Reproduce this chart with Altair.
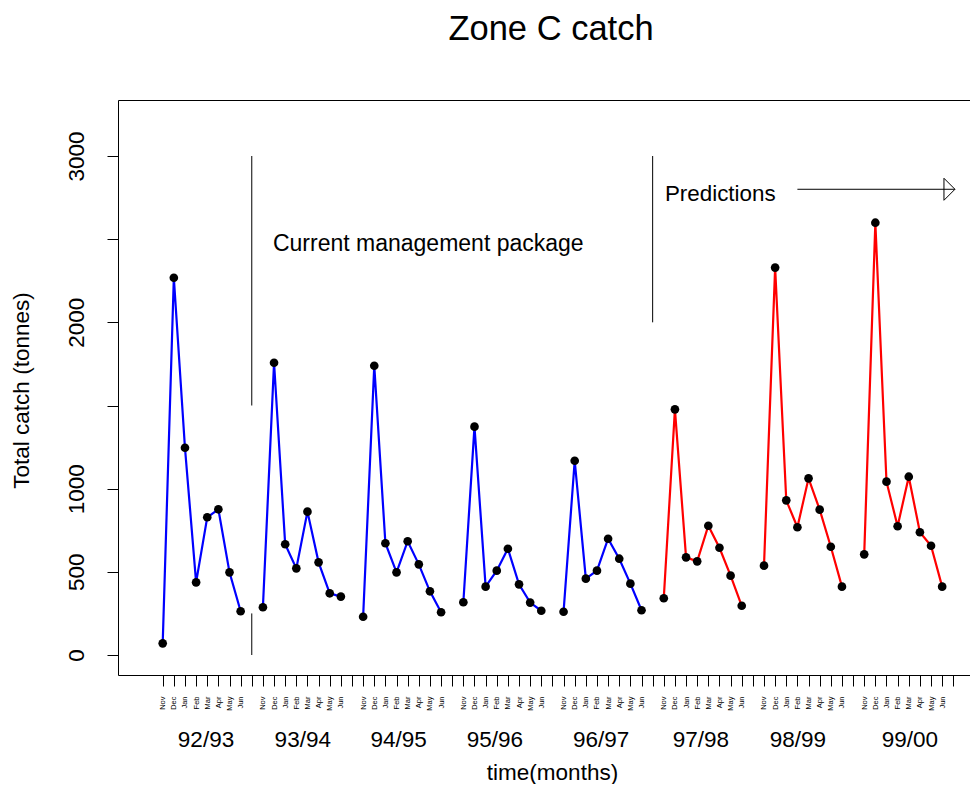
import altair as alt
import pandas as pd

FONT = "Liberation Sans"

# ---------------- data ----------------
seasons = ["92/93", "93/94", "94/95", "95/96", "96/97", "97/98", "98/99", "99/00"]
months = ["Nov", "Dec", "Jan", "Feb", "Mar", "Apr", "May", "Jun"]
month_tick_labels = ["Nov", "Dec", "Jan", "Feb", "Mar", "Apr", "May", "Jun", ""]
season_kind = ["observed", "observed", "observed", "observed", "observed",
               "predicted", "predicted", "predicted"]

catch_9293 = [70, 2268, 1246, 437, 828, 876, 497, 263]
catch_9394 = [287, 1757, 666, 521, 862, 557, 371, 351]
catch_9495 = [230, 1739, 672, 497, 684, 545, 383, 257]
catch_9596 = [317, 1373, 411, 507, 639, 425, 315, 266]
catch_9697 = [260, 1168, 459, 507, 699, 579, 429, 269]
catch_9798 = [341, 1477, 587, 563, 777, 645, 477, 296]
catch_9899 = [537, 2329, 930, 768, 1062, 874, 651, 411]
catch_9900 = [605, 2599, 1042, 774, 1072, 738, 657, 411]
all_catch = [catch_9293, catch_9394, catch_9495, catch_9596,
             catch_9697, catch_9798, catch_9899, catch_9900]

season_label_x = [4.89, 13.58, 22.19, 30.84, 40.38, 49.34, 58.05, 68.11]

y_ticks = [0, 500, 1000, 1500, 2000, 2500, 3000]
x_ticks = list(range(1, 73))

# annotation lines (x position, y from, y to)
vline_x = [9, 9, 45]
vline_y = [1500, 0, 2000]
vline_y2 = [3000, 250, 3000]

arrow_x = [58.0]
arrow_x2 = [72.15]
arrow_y = [2800]

notes = ["Current management package", "Predictions"]
notes_x = [10.9, 46.1]
notes_y = [2429, 2731]
notes_size = [23, 22.4]

title_text = ["Zone C catch"]

# ---------------- tables ----------------
rows = []
for s, (name, vals) in enumerate(zip(seasons, all_catch)):
    for m, (mon, v) in enumerate(zip(months, vals)):
        rows.append({"pos": s * 9 + m + 1, "catch": v, "season": name,
                     "month": mon, "kind": season_kind[s]})
df = pd.DataFrame(rows)

vlines = pd.DataFrame({"pos": vline_x, "catch": vline_y, "catch2": vline_y2})
arrow = pd.DataFrame({"pos": arrow_x, "pos2": arrow_x2, "catch": arrow_y})
arrow_tip = pd.DataFrame({"pos": arrow_x2, "catch": arrow_y})
notes_df = pd.DataFrame({"text": notes, "pos": notes_x, "catch": notes_y,
                         "size": notes_size})
season_df = pd.DataFrame({"text": seasons, "pos": season_label_x})
title_df = pd.DataFrame({"text": title_text})

xscale = alt.Scale(domain=[-3.014, 73.5], nice=False, zero=False)
yscale = alt.Scale(domain=[-120.2, 3336.7], nice=False, zero=False)

lbl_array = "[" + ",".join("'%s'" % m for m in month_tick_labels) + "]"

xaxis = alt.Axis(
    values=x_ticks,
    labelExpr=f"{lbl_array}[(datum.value - 1) % 9]",
    labelAngle=270, labelAlign="right", labelBaseline="middle",
    labelFontSize=7.5, labelFont=FONT, labelColor="black",
    labelPadding=10, ticks=True, tickSize=11, tickColor="black", tickWidth=1,
    tickOpacity=1,
    domain=False, grid=False, labelOverlap=False, labelFlush=False,
    labelBound=False,
    title="time(months)", titleFont=FONT, titleFontSize=22.5,
    titleFontWeight="normal", titleColor="black",
    titleX=434, titleY=104, titleAlign="center", titleBaseline="alphabetic",
)
yaxis = alt.Axis(
    values=y_ticks,
    labelExpr="(datum.value == 1500 || datum.value == 2500) ? '' : datum.label",
    format="d",
    labelAngle=270, labelAlign="center", labelBaseline="alphabetic",
    labelFontSize=22.5, labelFont=FONT, labelColor="black",
    labelPadding=24, ticks=True, tickSize=11, tickColor="black", tickWidth=1,
    domain=False, grid=False, labelOverlap=False, labelFlush=False,
    title="Total catch (tonnes)", titleFont=FONT, titleFontSize=22.5,
    titleFontWeight="normal", titleColor="black",
    titleAngle=270, titleX=-90, titleY=290, titleAlign="center",
    titleBaseline="alphabetic",
)


def X(field="pos"):
    return alt.X(f"{field}:Q", scale=xscale, axis=xaxis, title="time(months)")


def Y(field="catch"):
    return alt.Y(f"{field}:Q", scale=yscale, axis=yaxis, title="Total catch (tonnes)")


lines = alt.Chart(df).mark_line(strokeWidth=2.2).encode(
    x=X(), y=Y(),
    color=alt.Color("kind:N", scale=alt.Scale(domain=["observed", "predicted"],
                                               range=["#0000FF", "#FF0000"]),
                    legend=None),
    detail="season:N",
)

points = alt.Chart(df).mark_circle(size=75, color="black", opacity=1).encode(
    x=X(), y=Y()
)

rules = alt.Chart(vlines).mark_rule(color="black", strokeWidth=1).encode(
    x=X(), y=Y(), y2="catch2:Q"
)

arrow_line = alt.Chart(arrow).mark_rule(color="black", strokeWidth=1).encode(
    x=X(), x2="pos2:Q", y=Y()
)

arrow_head = alt.Chart(arrow_tip).mark_point(
    shape="M -1 -1 L 0 0 L -1 1 Z", size=484, filled=False,
    stroke="black", strokeWidth=1, opacity=1,
).encode(x=X(), y=Y())

note_text = alt.Chart(notes_df).mark_text(
    align="left", baseline="alphabetic", font=FONT, color="black"
).encode(x=X(), y=Y(), text="text:N",
         size=alt.Size("size:Q", scale=None, legend=None))

season_text = alt.Chart(season_df).mark_text(
    align="center", baseline="alphabetic", fontSize=22.5, font=FONT, color="black"
).encode(x=X(), y=alt.value(646.7), text="text:N")

title_mark = alt.Chart(title_df).mark_text(
    align="center", baseline="alphabetic", fontSize=34.5, font=FONT, color="black"
).encode(x=alt.value(433), y=alt.value(-60.3), text="text:N")

chart = alt.layer(
    lines, points, rules, arrow_line, arrow_head, note_text, season_text, title_mark
).properties(
    width=852, height=575,
    autosize=alt.AutoSizeParams(type="none"),
    padding={"left": 110, "top": 92, "right": 0, "bottom": 109},
).configure_view(stroke="black", strokeWidth=1)

chart.save("out.html", embed_options={"renderer": "svg", "actions": False})
